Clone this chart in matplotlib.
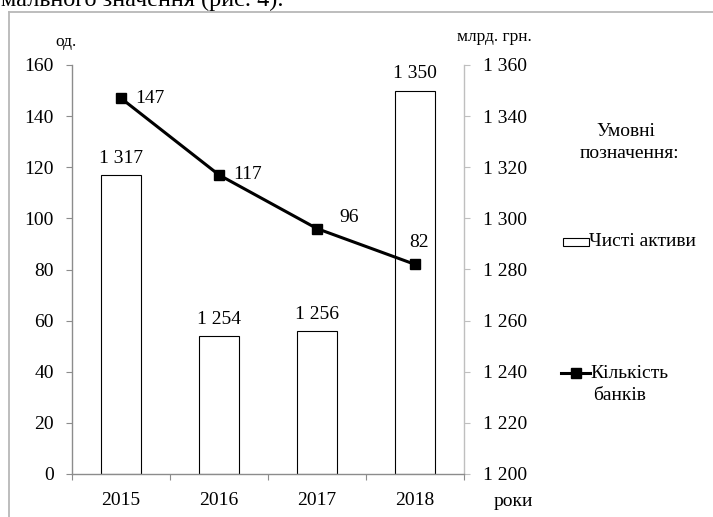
import matplotlib
matplotlib.use("Agg")
import matplotlib.pyplot as plt
from matplotlib.lines import Line2D
from matplotlib.patches import Rectangle

plt.rcParams['font.family'] = ['Liberation Serif', 'DejaVu Serif']

years = ['2015', '2016', '2017', '2018']
net_assets = [1317, 1254, 1256, 1350]          # млрд. грн.
bank_count = [147, 117, 96, 82]                  # од.
left_ticks = [0, 20, 40, 60, 80, 100, 120, 140, 160]
right_ticks = [1200, 1220, 1240, 1260, 1280, 1300, 1320, 1340, 1360]
right_tick_labels = ['1 200', '1 220', '1 240', '1 260', '1 280',
                     '1 300', '1 320', '1 340', '1 360']
net_asset_labels = ['1 317', '1 254', '1 256', '1 350']

W, H = 713, 517
fig = plt.figure(figsize=(W / 100, H / 100), dpi=100)

def fx(px):
    return px / W

def fy(py):
    return 1 - py / H

# surrounding text and frame
fig.text(fx(1), fy(6), 'мального значення (рис. 4).', fontsize=17.5,
         va='baseline', ha='left')
fig.add_artist(Line2D([fx(9), fx(9)], [0, fy(12)], color='#b8b8b8', lw=1.3))
fig.add_artist(Line2D([fx(9), 1], [fy(12), fy(12)], color='#b8b8b8', lw=1.3))

ax = fig.add_axes([fx(72), fy(474), fx(464) - fx(72), fy(65) - fy(474)])
ax.patch.set_visible(False)
x = list(range(len(years)))

# bars: net assets on the right-hand scale
ax.bar(x, [v - 1200 for v in net_assets], bottom=1200, width=0.4,
       color='white', edgecolor='black', linewidth=0.8, zorder=2)
ax.set_ylim(1200, 1360)
ax.set_xlim(-0.5, len(years) - 0.5)
for xi, v, lab in zip(x, net_assets, net_asset_labels):
    ax.annotate(lab, (xi, v), xytext=(0, 6), textcoords='offset points',
                ha='center', va='bottom', fontsize=14)

# x axis: ticks on category boundaries, labels at centers
ax.set_xticks([i - 0.5 for i in range(len(years) + 1)])
ax.set_xticklabels([])
ax.set_xticks(x, minor=True)
ax.set_xticklabels(years, minor=True)
ax.tick_params(axis='x', which='major', direction='out', length=4,
               width=0.8, color='#8c8c8c')
ax.tick_params(axis='x', which='minor', length=0, pad=13, labelsize=14)

# line: number of banks on the left-hand scale
axl = ax.twinx()
axl.plot(x, bank_count, color='black', lw=2.2, marker='s', markersize=7.5,
         zorder=3)
axl.set_ylim(0, 160)

# put the money scale on the right and the count scale on the left
ax.yaxis.tick_right()
ax.yaxis.set_label_position('right')
ax.set_yticks(right_ticks)
ax.set_yticklabels(right_tick_labels)
ax.tick_params(axis='y', direction='out', length=4, width=0.8,
               color='#bfbfbf', pad=9.5, labelsize=14)

axl.yaxis.tick_left()
axl.yaxis.set_label_position('left')
axl.set_yticks(left_ticks)
axl.tick_params(axis='y', direction='out', length=4, width=0.8,
                color='#8c8c8c', pad=9, labelsize=14)

for s in ['top', 'left']:
    ax.spines[s].set_visible(False)
ax.spines['right'].set_visible(True)
ax.spines['right'].set_color('#bfbfbf')
ax.spines['right'].set_linewidth(1.0)
ax.spines['bottom'].set_color('#8c8c8c')
ax.spines['bottom'].set_linewidth(1.0)

for s in ['top', 'right', 'bottom']:
    axl.spines[s].set_visible(False)
axl.spines['left'].set_visible(True)
axl.spines['left'].set_color('#8c8c8c')
axl.spines['left'].set_linewidth(1.0)

offsets = [(10, 0, 'left', 'center'), (10, 0, 'left', 'center'),
           (16, 8, 'left', 'center'), (3, 16, 'center', 'center')]
for xi, v, (dx, dy, ha, va) in zip(x, bank_count, offsets):
    axl.annotate(str(v), (xi, v), xytext=(dx, dy), textcoords='offset points',
                 ha=ha, va=va, fontsize=14)

# axis captions
fig.text(fx(66), fy(42), 'од.', fontsize=12.5, ha='center', va='center')
fig.text(fx(494), fy(37), 'млрд. грн.', fontsize=12.5, ha='center', va='center')
fig.text(fx(513), fy(501), 'роки', fontsize=14, ha='center', va='center')

# key
fig.text(fx(626), fy(132), 'Умовні', fontsize=14, ha='center', va='center')
fig.text(fx(629), fy(153), 'позначення:', fontsize=14, ha='center', va='center')
fig.add_artist(Rectangle((fx(563), fy(246)), fx(589) - fx(563), fy(238) - fy(246),
                         facecolor='white', edgecolor='black', lw=0.8))
fig.text(fx(589), fy(242), 'Чисті активи', fontsize=14, ha='left', va='center')
fig.add_artist(Line2D([fx(561), fx(590)], [fy(373), fy(373)], color='black',
                      lw=2.2))
fig.add_artist(Line2D([fx(575.5)], [fy(373)], color='black', marker='s',
                      markersize=7.5, lw=0))
fig.text(fx(590), fy(373), 'Кількість', fontsize=14, ha='left', va='center')
fig.text(fx(593), fy(396), 'банків', fontsize=14, ha='left', va='center')

fig.savefig('out.png', dpi=100)
